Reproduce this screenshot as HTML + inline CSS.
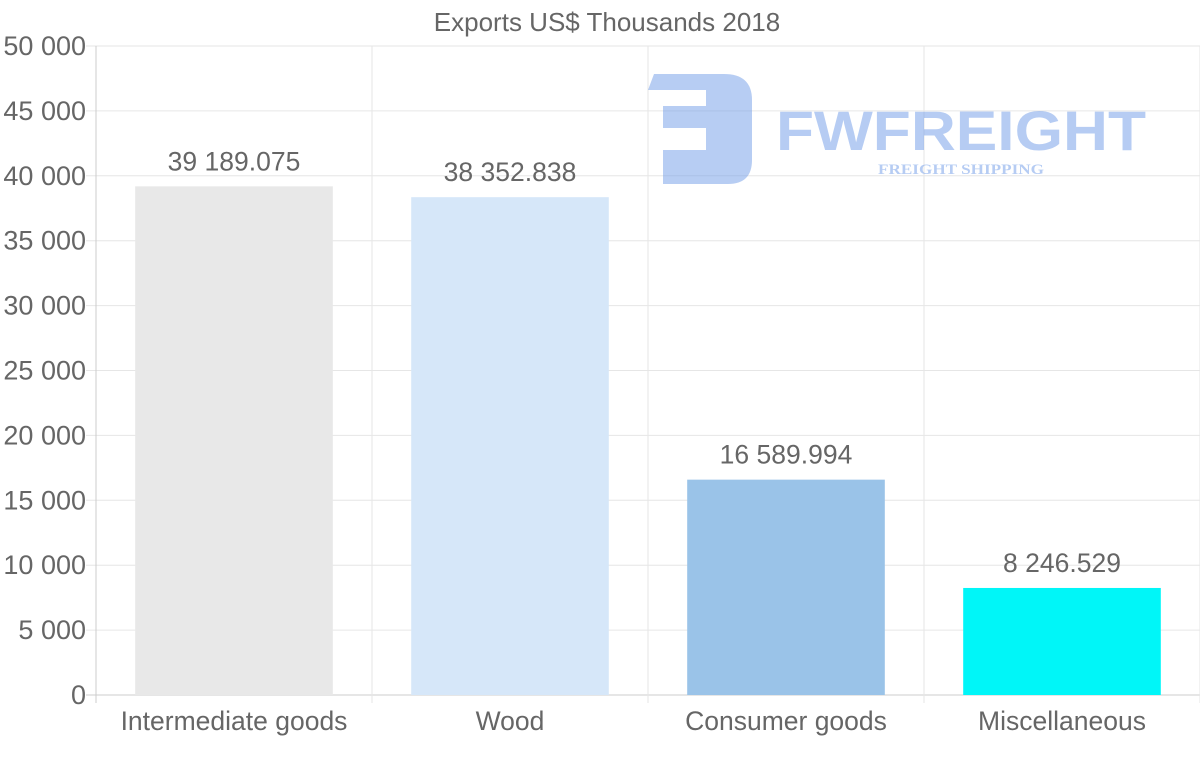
<!DOCTYPE html>
<html><head><meta charset="utf-8"><style>
body{margin:0;background:#fff;width:1200px;height:763px;overflow:hidden}
svg{display:block;font-family:"Liberation Sans",Arial,sans-serif}
</style></head><body>
<svg id="c" width="1200" height="763">
<g opacity="0.5">
<path d="M654 74 H724 Q752 74 752 100 V160 Q752 184 728 184 H663 V150 H706 V128 H663 V106 H706 V90 H648 Z" fill="#6f9be8"/>
<text x="776" y="150" font-size="56" font-weight="bold" fill="#6f9be8" textLength="370" lengthAdjust="spacingAndGlyphs">FWFREIGHT</text>
<text x="878" y="174" font-size="15" font-weight="bold" font-family="Liberation Serif,serif" fill="#6f9be8" textLength="166" lengthAdjust="spacingAndGlyphs">FREIGHT SHIPPING</text>
</g>
</svg>
<script>
const categories=["Intermediate goods","Wood","Consumer goods","Miscellaneous"];
const values=[39189.075,38352.838,16589.994,8246.529];
const valueLabels=["39 189.075","38 352.838","16 589.994","8 246.529"];
const colors=["#e8e8e8","#d6e7f9","#9ac3e8","#00f6f8"];
const yTicks=[0,5000,10000,15000,20000,25000,30000,35000,40000,45000,50000];
const yTickLabels=["0","5 000","10 000","15 000","20 000","25 000","30 000","35 000","40 000","45 000","50 000"];
const svg=document.getElementById('c');const NS="http://www.w3.org/2000/svg";
const L=96,R=1200,T=46,B=695,yMax=50000;
const y=v=>B-(v/yMax)*(B-T);
const cw=(R-L)/categories.length;
const x=i=>L+i*cw;
function mk(t,a,p){const e=document.createElementNS(NS,t);for(const k in a)e.setAttribute(k,a[k]);(p||svg).appendChild(e);return e;}
const g=document.createElementNS(NS,'g');


svg.insertBefore(g,svg.firstChild);
yTicks.forEach((t,i)=>{
 const ln=mk('line',{x1:86,x2:R,y1:y(t),y2:y(t),stroke:i==0?'#ccc':'#e6e6e6','stroke-width':1},g);
 
 
 const tx=mk('text',{x:86,y:y(t)+9,'text-anchor':'end','font-size':27,fill:'#666'});
 tx.textContent=yTickLabels[i];
 
 
});
for(let i=0;i<=categories.length;i++){
 const ln=mk('line',{x1:x(i),x2:x(i),y1:T,y2:703,stroke:i==0?'#ccc':'#e6e6e6'},g);
 
 
}
const bw=cw*0.716;
categories.forEach((c,i)=>{
 const cx=x(i)+cw/2;
 const r=mk('rect',{x:cx-bw/2,y:y(values[i]),width:bw,height:B-y(values[i]),fill:colors[i]});
 
 
 const vl=mk('text',{x:cx,y:y(values[i])-16,'text-anchor':'middle','font-size':26.5,fill:'#666'});
 vl.textContent=valueLabels[i];
 
 
 const xl=mk('text',{x:cx,y:730,'text-anchor':'middle','font-size':26.5,fill:'#666'});
 xl.textContent=c;
 
 
});
const tt=mk('text',{x:607,y:31,'text-anchor':'middle','font-size':26,fill:'#666'});
tt.textContent="Exports US$ Thousands 2018";


</script>
</body></html>
